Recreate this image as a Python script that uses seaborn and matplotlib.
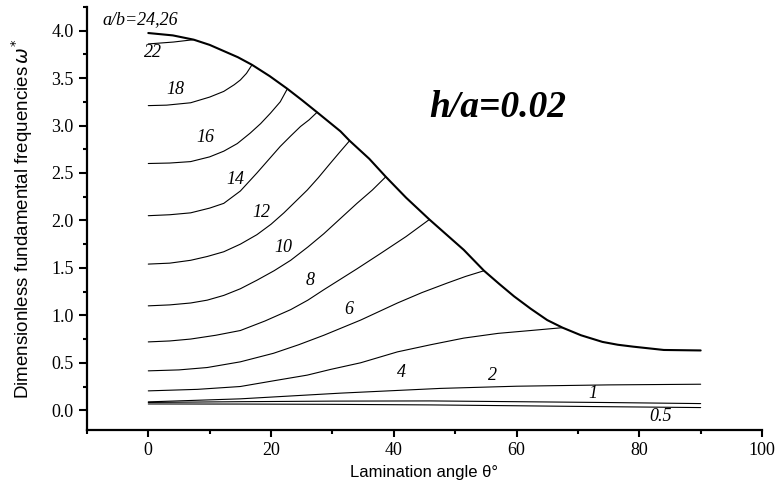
import numpy as np
import pandas as pd
import matplotlib
matplotlib.use("Agg")
import matplotlib.pyplot as plt
from matplotlib.ticker import MultipleLocator
import seaborn as sns

# ==========================================
# Data
# ==========================================
# upper envelope (a/b = 24, 26 follows it from theta = 0)
env_theta = [0, 4, 7.4, 10, 12.3, 14.6, 16.9, 19.8, 22.6, 25, 27.5, 29.4, 31.3, 32.8,
             36, 38.7, 42, 45.8, 48.6, 51.4, 54.7, 57.2, 59.6, 62.3, 65, 67.5, 70.5,
             74, 76.5, 79, 84, 90]
env_omega = [3.975, 3.95, 3.905, 3.85, 3.785, 3.72, 3.64, 3.52, 3.39, 3.27, 3.14, 3.04, 2.94, 2.84,
             2.65, 2.46, 2.24, 2.01, 1.85, 1.69, 1.47, 1.33, 1.20, 1.07, 0.95, 0.87, 0.79,
             0.72, 0.69, 0.67, 0.635, 0.63]

theta_22 = [0, 4.1, 7.4]
omega_22 = [3.86, 3.88, 3.905]

theta_18 = [0, 3, 6.9, 10, 12.3, 14, 15, 16, 16.9]
omega_18 = [3.21, 3.215, 3.24, 3.30, 3.36, 3.43, 3.48, 3.55, 3.64]

theta_16 = [0, 3.5, 6.9, 10, 12.3, 14.5, 16.6, 18.3, 19.9, 21.5, 22.6]
omega_16 = [2.60, 2.605, 2.62, 2.67, 2.73, 2.81, 2.92, 3.02, 3.13, 3.25, 3.38]

theta_14 = [0, 3.5, 6.9, 10, 12.3, 15, 17.7, 19.6, 21.5, 23.2, 24.8, 26.2, 27.5]
omega_14 = [2.05, 2.06, 2.08, 2.13, 2.18, 2.31, 2.50, 2.64, 2.78, 2.89, 2.99, 3.06, 3.14]

theta_12 = [0, 3.5, 6.9, 9.6, 12.3, 15, 17.7, 20, 22.1, 24, 25.9, 27.7, 29.5, 31.2, 32.8]
omega_12 = [1.54, 1.55, 1.58, 1.62, 1.67, 1.75, 1.85, 1.96, 2.08, 2.20, 2.32, 2.45, 2.59, 2.72, 2.84]

theta_10 = [0, 3.5, 6.9, 9.6, 12.3, 15, 17.7, 20.5, 23.2, 26, 28.6, 31.3, 34, 36.5, 38.7]
omega_10 = [1.10, 1.11, 1.13, 1.16, 1.21, 1.28, 1.37, 1.47, 1.58, 1.72, 1.86, 2.02, 2.18, 2.32, 2.46]

theta_8 = [0, 3.5, 6.9, 11, 15, 19, 23.2, 26, 28.6, 31.3, 34, 37.8, 42, 45.8]
omega_8 = [0.72, 0.73, 0.75, 0.79, 0.84, 0.94, 1.06, 1.16, 1.27, 1.38, 1.49, 1.65, 1.83, 2.01]

theta_6 = [0, 5, 9.6, 15, 20.4, 24.5, 28.6, 31.6, 34.6, 37.6, 40.6, 44.6, 48.7, 51.7, 54.7]
omega_6 = [0.415, 0.425, 0.45, 0.51, 0.60, 0.69, 0.79, 0.87, 0.95, 1.04, 1.13, 1.24, 1.34, 1.41, 1.47]

theta_4 = [0, 8, 15, 20.4, 25.9, 29.7, 34.6, 40.6, 46, 51.4, 57, 62.3, 67.5]
omega_4 = [0.204, 0.22, 0.25, 0.31, 0.37, 0.43, 0.50, 0.615, 0.69, 0.76, 0.81, 0.84, 0.87]

theta_2 = [0, 15, 31.3, 47.6, 60, 75, 90]
omega_2 = [0.088, 0.12, 0.18, 0.23, 0.253, 0.267, 0.274]

theta_1 = [0, 15, 30, 46, 60, 75, 90]
omega_1 = [0.082, 0.09, 0.096, 0.098, 0.09, 0.081, 0.07]

theta_05 = [0, 15, 30, 46, 60, 75, 90]
omega_05 = [0.066, 0.065, 0.062, 0.056, 0.047, 0.037, 0.028]

curves = {
    "22": (theta_22, omega_22),
    "18": (theta_18, omega_18),
    "16": (theta_16, omega_16),
    "14": (theta_14, omega_14),
    "12": (theta_12, omega_12),
    "10": (theta_10, omega_10),
    "8": (theta_8, omega_8),
    "6": (theta_6, omega_6),
    "4": (theta_4, omega_4),
    "2": (theta_2, omega_2),
    "1": (theta_1, omega_1),
    "0.5": (theta_05, omega_05),
}

# curve labels: text, theta, omega
label_text = ["a/b=24,26", "22", "18", "16", "14", "12", "10", "8", "6", "4", "2", "1", "0.5"]
label_theta = [-1.3, 0.7, 4.4, 9.3, 14.2, 18.4, 22.0, 26.4, 32.6, 41.3, 56.1, 72.4, 83.5]
label_omega = [4.12, 3.77, 3.38, 2.87, 2.43, 2.08, 1.71, 1.37, 1.06, 0.40, 0.37, 0.18, -0.07]

# ==========================================
# Plot
# ==========================================
sns.set_style("ticks")
plt.rcParams.update({
    "font.family": ["Liberation Serif", "DejaVu Serif"],
    "text.color": "black",
    "axes.labelcolor": "black",
    "xtick.direction": "out",
    "ytick.direction": "out",
    "xtick.major.size": 5,
    "ytick.major.size": 6,
    "xtick.minor.size": 3,
    "ytick.minor.size": 3,
    "xtick.major.width": 1.5,
    "ytick.major.width": 1.5,
    "xtick.minor.width": 1.5,
    "ytick.minor.width": 1.5,
    "axes.linewidth": 1.6,
    "axes.edgecolor": "black",
    "xtick.color": "black",
    "ytick.color": "black",
})

fig = plt.figure(figsize=(7.76, 4.95), dpi=100)
ax = fig.add_axes([0.112, 0.131, 0.870, 0.855])

rows = []
for name, (th, om) in curves.items():
    for t, w in zip(th, om):
        rows.append({"curve": name, "theta": t, "omega": w})
df = pd.DataFrame(rows)

sns.lineplot(data=df, x="theta", y="omega", units="curve", estimator=None,
             color="black", lw=0.8, sort=False, ax=ax)
sns.lineplot(x=env_theta, y=env_omega, color="black", lw=1.5, sort=False, ax=ax)

for txt, t, w in zip(label_text, label_theta, label_omega):
    ax.text(t, w, txt, fontsize=13, style="italic", ha="center", va="center")

ax.text(57, 3.19, "h/a=0.02", fontsize=27, style="italic", weight="bold",
        ha="center", va="center")

ax.set_xlim(-10, 100)
ax.set_ylim(-0.21, 4.25)
ax.xaxis.set_minor_locator(MultipleLocator(10))
ax.yaxis.set_minor_locator(MultipleLocator(0.25))
ax.set_xticks([0, 20, 40, 60, 80, 100])
ax.set_yticks(np.arange(0, 4.01, 0.5))
ax.set_yticklabels([f"{v:.1f}" for v in np.arange(0, 4.01, 0.5)])
ax.tick_params(labelsize=13)

sns.despine(ax=ax)

ax.set_xlabel("Lamination angle θ°", fontsize=12, family=["Liberation Sans", "DejaVu Sans"])
ax.set_ylabel("Dimensionless fundamental frequencies$\\,\\omega^{*}$", fontsize=13.5,
              family=["Liberation Sans", "DejaVu Sans"], labelpad=12)

fig.savefig("out.png", dpi=100)
